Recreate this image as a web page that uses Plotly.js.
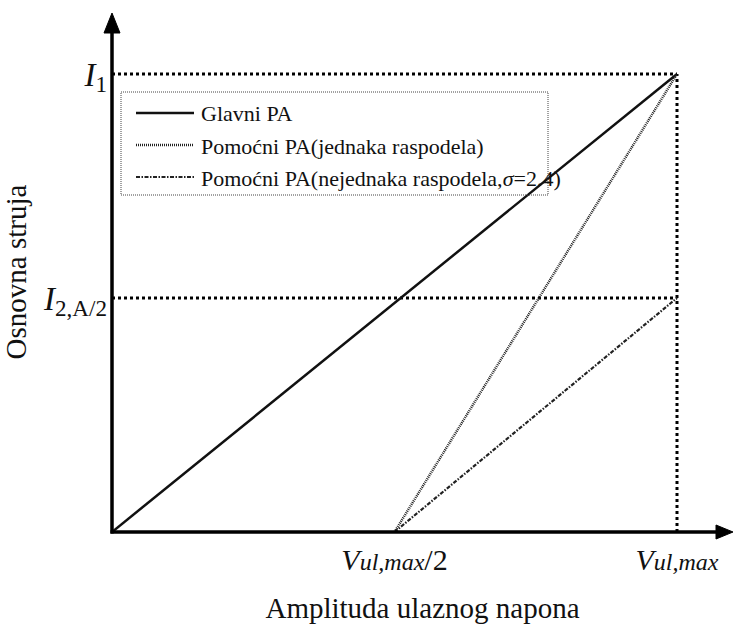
<!DOCTYPE html>
<html>
<head>
<meta charset="utf-8">
<script src="https://cdn.plot.ly/plotly-3.0.1.min.js"></script>
<style>html,body{margin:0;padding:0;background:#fff;}#chart{width:734px;height:628px;}</style>
</head>
<body>
<div id="chart"></div>
<script>
// ---- data (normalised: Vul,max = 1, I1 = 1) ----
const seriesNames = ["Glavni PA", "Pomoćni PA(jednaka raspodela)", "Pomoćni PA(nejednaka raspodela,<i>σ</i>=2.4)"];
const mainX = [0, 1];
const mainY = [0, 1];
const equalX = [0.5, 1];
const equalY = [0, 1];
const unequalX = [0.5, 1];
const unequalY = [0, 0.511];
const xTickVals = [0.5, 1];
const xTickText = ["<i>V<span style='font-size:24px'>ul,max</span></i>/2", "<i>V<span style='font-size:24px'>ul,max</span></i>"];
const yTickVals = [1, 0.511];
const yTickText = ["<i>I</i><sub>1</sub>", "<i>I</i><sub>2,A/2</sub>"];
const i1Level = 1;
const i2Level = 0.511;
const vMax = 1;
const xTitle = "Amplituda ulaznog napona";
const yTitle = "Osnovna struja";

// ---- layout geometry ----
const W = 734, H = 628;
const M = {l: 112, r: 1, t: 12, b: 96};
const pw = W - M.l - M.r, ph = H - M.t - M.b;
const xUnitPx = 565, yUnitPx = 458;
const xMax = pw / xUnitPx, yMax = ph / yUnitPx;
const px = v => (v - M.l) / pw;
const py = v => (H - M.b - v) / ph;

const serif = "Liberation Serif, Times New Roman, serif";
const styles = [
  {color: "#111", width: 2.5, dash: "solid"},
  {color: "#222", width: 2.5, dash: "1px,1px"},
  {color: "#222", width: 2.2, dash: "4px,1.5px,1.5px,1.5px"}
];
const guide = {color: "#000", width: 3, dash: "dot"};

const traces = [
  {x: [0, vMax], y: [i1Level, i1Level], mode: "lines", line: guide, showlegend: false, hoverinfo: "skip"},
  {x: [vMax, vMax], y: [0, i1Level], mode: "lines", line: guide, showlegend: false, hoverinfo: "skip"},
  {x: [0, vMax], y: [i2Level, i2Level], mode: "lines", line: guide, showlegend: false, hoverinfo: "skip"},
  {x: mainX, y: mainY, mode: "lines", name: seriesNames[0], line: styles[0], showlegend: false},
  {x: equalX, y: equalY, mode: "lines", name: seriesNames[1], line: styles[1], showlegend: false},
  {x: unequalX, y: unequalY, mode: "lines", name: seriesNames[2], line: styles[2], showlegend: false}
];

// manual legend
const legRows = [113, 145, 177];
const shapes = [
  {type: "rect", xref: "paper", yref: "paper", x0: px(121), x1: px(548), y0: py(195), y1: py(92),
   line: {color: "#444", width: 1, dash: "1px,1px"}, fillcolor: "rgba(0,0,0,0)"}
];
const annotations = [];
legRows.forEach((r, i) => {
  shapes.push({type: "line", xref: "paper", yref: "paper", x0: px(136), x1: px(194), y0: py(r), y1: py(r), line: styles[i]});
  annotations.push({xref: "paper", yref: "paper", x: px(199), y: py(r + 1), xanchor: "left", yanchor: "middle",
    text: seriesNames[i], showarrow: false, font: {family: serif, size: 22, color: "#111"}});
});
// axis lines with arrowheads
const ox = 112, oy = 532;
shapes.push({type: "line", xref: "paper", yref: "paper", x0: px(ox - 1.5), y0: py(oy), x1: px(720), y1: py(oy),
  line: {color: "#000", width: 3.5}});
shapes.push({type: "line", xref: "paper", yref: "paper", x0: px(ox), y0: py(oy + 1.5), x1: px(ox), y1: py(28),
  line: {color: "#000", width: 3.5}});
shapes.push({type: "path", xref: "paper", yref: "paper",
  path: `M${px(733)},${py(oy)} L${px(716)},${py(oy - 7)} L${px(716)},${py(oy + 7)} Z`,
  fillcolor: "#000", line: {color: "#000", width: 1}});
shapes.push({type: "path", xref: "paper", yref: "paper",
  path: `M${px(ox)},${py(13)} L${px(ox - 8)},${py(33)} L${px(ox + 8)},${py(33)} Z`,
  fillcolor: "#000", line: {color: "#000", width: 1}});

const layout = {
  width: W, height: H,
  margin: M,
  paper_bgcolor: "#fff", plot_bgcolor: "#fff",
  showlegend: false,
  font: {family: serif, color: "#111"},
  xaxis: {range: [0, xMax], showgrid: false, zeroline: false, showline: false, ticks: "",
    tickvals: xTickVals, ticktext: xTickText, tickfont: {family: serif, size: 30, color: "#111"},
    ticklabelstandoff: 7,
    title: {text: xTitle, font: {family: serif, size: 29, color: "#111"}, standoff: 22}},
  yaxis: {range: [0, yMax], showgrid: false, zeroline: false, showline: false, ticks: "",
    tickvals: yTickVals, ticktext: yTickText, tickfont: {family: serif, size: 33, color: "#111"},
    ticklabelstandoff: 4,
    title: {text: yTitle, font: {family: serif, size: 29, color: "#111"}, standoff: 20}},
  shapes: shapes,
  annotations: annotations
};

Plotly.newPlot("chart", traces, layout, {displayModeBar: false, staticPlot: true});
</script>
</body>
</html>
